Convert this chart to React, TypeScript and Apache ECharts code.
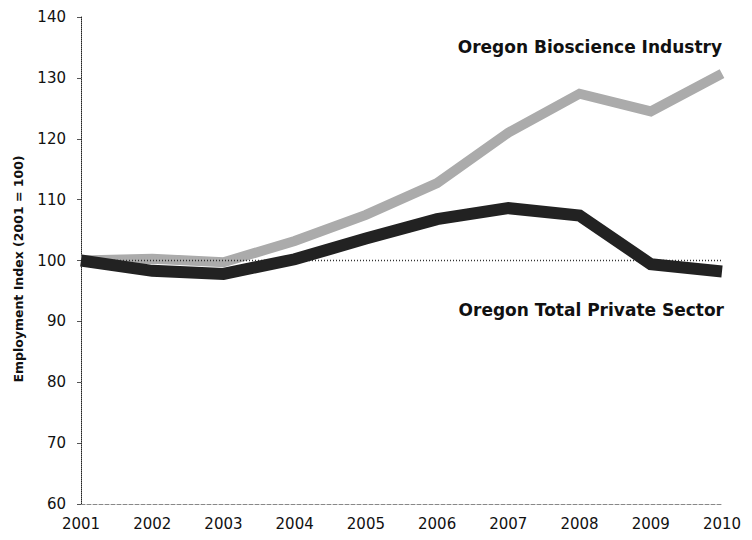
import React, { useEffect, useRef } from "react";
import * as echarts from "echarts";

const years = ["2001", "2002", "2003", "2004", "2005", "2006", "2007", "2008", "2009", "2010"];
const bioscience = [100, 100.3, 99.7, 103.2, 107.5, 112.7, 121.0, 127.4, 124.5, 130.7];
const privateSector = [100, 98.3, 97.8, 100.2, 103.6, 106.8, 108.6, 107.4, 99.4, 98.2];
const baselineValue = 100;
const yTicks = { min: 60, max: 140, interval: 10 };
const bioLabel = "Oregon Bioscience Industry";
const privateLabel = "Oregon Total Private Sector";
const yTitle = "Employment Index (2001 = 100)";

export default function App() {
  const ref = useRef<HTMLDivElement>(null);
  useEffect(() => {
    if (!ref.current) return;
    const chart = echarts.init(ref.current, null, { renderer: "svg" });
    const font = "DejaVu Sans, Verdana, sans-serif";
    chart.setOption({
      animation: false,
      backgroundColor: "#ffffff",
      grid: { left: 81, right: 30, top: 17, bottom: 36 },
      xAxis: {
        type: "category",
        data: years,
        boundaryGap: false,
        axisLine: { lineStyle: { color: "#888", type: "dashed", width: 1 } },
        axisTick: { show: false },
        axisLabel: { color: "#111", fontFamily: font, fontSize: 15, margin: 12 },
        splitLine: { show: false },
      },
      yAxis: {
        type: "value",
        min: yTicks.min,
        max: yTicks.max,
        interval: yTicks.interval,
        axisLine: { show: true, lineStyle: { color: "#222", type: "dotted", width: 1 } },
        axisTick: { show: true, length: 4, lineStyle: { color: "#555" } },
        axisLabel: { color: "#111", fontFamily: font, fontSize: 15, margin: 15 },
        splitLine: { show: false },
      },
      graphic: [
        {
          type: "text",
          x: 18,
          y: 269,
          rotation: Math.PI / 2,
          style: {
            text: yTitle,
            fontFamily: font,
            fontSize: 12.5,
            fontWeight: "bold",
            fill: "#111",
            align: "center",
            verticalAlign: "middle",
          },
        },
        {
          type: "text",
          x: 722,
          y: 47,
          style: {
            text: bioLabel,
            fontFamily: font,
            fontSize: 17,
            fontWeight: "bold",
            fill: "#111",
            align: "right",
            verticalAlign: "middle",
          },
        },
        {
          type: "text",
          x: 724,
          y: 310,
          style: {
            text: privateLabel,
            fontFamily: font,
            fontSize: 17,
            fontWeight: "bold",
            fill: "#111",
            align: "right",
            verticalAlign: "middle",
          },
        },
      ],
      series: [
        {
          name: bioLabel,
          type: "line",
          data: bioscience,
          symbol: "none",
          lineStyle: { color: "#ababab", width: 10, join: "miter" },
          z: 2,
        },
        {
          name: "baseline",
          type: "line",
          data: years.map(() => baselineValue),
          symbol: "none",
          lineStyle: { color: "#333", width: 1.5, type: [1, 2] },
          z: 3,
        },
        {
          name: privateLabel,
          type: "line",
          data: privateSector,
          symbol: "none",
          lineStyle: { color: "#222", width: 12, join: "miter" },
          z: 4,
        },
      ],
    });
    return () => chart.dispose();
  }, []);
  return (
    <div
      ref={ref}
      style={{ position: "fixed", left: 0, top: 0, width: 752, height: 540, background: "#fff" }}
    />
  );
}
